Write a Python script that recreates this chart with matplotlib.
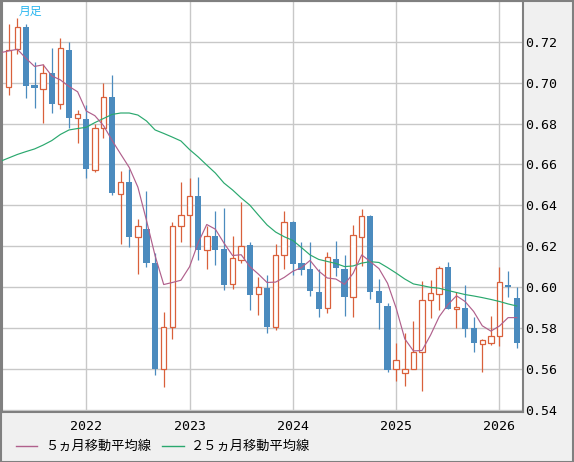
import numpy as np
import pandas as pd
import matplotlib
matplotlib.use("Agg")
import matplotlib.pyplot as plt

# monthly candles, Apr 2021 .. Mar 2026
months = pd.period_range("2021-04", periods=60, freq="M")

opens = [0.6978, 0.7164, 0.7272, 0.6989, 0.6968, 0.7046, 0.6895, 0.7161, 0.6826, 0.6823,
         0.6573, 0.6777, 0.6932, 0.6454, 0.6513, 0.6243, 0.6282, 0.6117, 0.5597, 0.5805,
         0.6297, 0.6351, 0.6446, 0.6183, 0.6251, 0.6186, 0.6013, 0.6131, 0.6206, 0.5964,
         0.5995, 0.5803, 0.6155, 0.6320, 0.6116, 0.6088, 0.5975, 0.5897, 0.6136, 0.6087,
         0.5952, 0.6243, 0.6349, 0.5980, 0.5907, 0.5597, 0.5580, 0.5597, 0.5680, 0.5936,
         0.5964, 0.6096, 0.5891, 0.5896, 0.5798, 0.5719, 0.5724, 0.5760, 0.6010, 0.5945]
highs = [0.7286, 0.7319, 0.7286, 0.7103, 0.7090, 0.7169, 0.7218, 0.7198, 0.6867, 0.6891,
         0.6798, 0.7000, 0.7038, 0.6568, 0.6576, 0.6331, 0.6470, 0.6168, 0.5876, 0.6317,
         0.6514, 0.6534, 0.6539, 0.6300, 0.6372, 0.6388, 0.6250, 0.6418, 0.6222, 0.6050,
         0.6057, 0.6210, 0.6372, 0.6325, 0.6222, 0.6222, 0.6088, 0.6171, 0.6225, 0.6157,
         0.6304, 0.6380, 0.6354, 0.6039, 0.5923, 0.5724, 0.5773, 0.5833, 0.6031, 0.6034,
         0.6104, 0.6121, 0.5977, 0.6010, 0.5855, 0.5744, 0.5858, 0.6099, 0.6078, 0.5998]
lows = [0.6940, 0.7139, 0.6924, 0.6878, 0.6805, 0.6853, 0.6872, 0.6777, 0.6704, 0.6532,
        0.6565, 0.6728, 0.6450, 0.6212, 0.6197, 0.6062, 0.6099, 0.5569, 0.5512, 0.5744,
        0.6222, 0.6197, 0.6132, 0.6087, 0.6108, 0.5985, 0.5990, 0.6119, 0.5887, 0.5863,
        0.5776, 0.5789, 0.6087, 0.6059, 0.6059, 0.5956, 0.5855, 0.5874, 0.6054, 0.5859,
        0.5852, 0.6104, 0.5941, 0.5794, 0.5585, 0.5541, 0.5517, 0.5597, 0.5489, 0.5847,
        0.5887, 0.5891, 0.5798, 0.5754, 0.5683, 0.5582, 0.5716, 0.5711, 0.5952, 0.5703]
closes = [0.7161, 0.7272, 0.6986, 0.6973, 0.7046, 0.6895, 0.7169, 0.6826, 0.6846, 0.6576,
          0.6777, 0.6932, 0.6459, 0.6513, 0.6243, 0.6297, 0.6116, 0.5597, 0.5805, 0.6297,
          0.6351, 0.6446, 0.6183, 0.6251, 0.6183, 0.6010, 0.6143, 0.6202, 0.5962, 0.5998,
          0.5803, 0.6155, 0.6317, 0.6113, 0.6085, 0.5982, 0.5894, 0.6145, 0.6091, 0.5952,
          0.6253, 0.6346, 0.5977, 0.5923, 0.5593, 0.5641, 0.5597, 0.5680, 0.5936, 0.5969,
          0.6091, 0.5891, 0.5900, 0.5793, 0.5727, 0.5740, 0.5760, 0.6023, 0.5998, 0.5727]

# moving averages, Mar 2021 .. Mar 2026 (one point before the first candle)
ma5 = [0.7147, 0.7156, 0.7164, 0.7120, 0.7080, 0.7088, 0.7034, 0.7014, 0.6982, 0.6956,
       0.6862, 0.6839, 0.6791, 0.6718, 0.6651, 0.6585, 0.6489, 0.6326, 0.6153, 0.6012,
       0.6022, 0.6033, 0.6099, 0.6216, 0.6306, 0.6283, 0.6215, 0.6154, 0.6158, 0.6100,
       0.6063, 0.6022, 0.6024, 0.6047, 0.6077, 0.6095, 0.6130, 0.6078, 0.6044, 0.6039,
       0.6013, 0.6067, 0.6157, 0.6124, 0.6090, 0.6018, 0.5896, 0.5746, 0.5687, 0.5689,
       0.5765, 0.5855, 0.5913, 0.5957, 0.5929, 0.5880, 0.5810, 0.5784, 0.5809, 0.5850,
       0.5850]
ma25 = [0.6615, 0.6632, 0.6649, 0.6663, 0.6676, 0.6695, 0.6717, 0.6747, 0.6769, 0.6776,
        0.6782, 0.6805, 0.6825, 0.6845, 0.6852, 0.6852, 0.6842, 0.6813, 0.6769, 0.6752,
        0.6734, 0.6715, 0.6673, 0.6637, 0.6597, 0.6558, 0.6509, 0.6475, 0.6436, 0.6401,
        0.6352, 0.6304, 0.6269, 0.6246, 0.6228, 0.6193, 0.6157, 0.6135, 0.6125, 0.6115,
        0.6100, 0.6103, 0.6117, 0.6124, 0.6120, 0.6095, 0.6068, 0.6039, 0.6015, 0.6007,
        0.5998, 0.5994, 0.5983, 0.5973, 0.5963, 0.5956, 0.5948, 0.5939, 0.5929, 0.5917,
        0.5907]

yticks = [0.54, 0.56, 0.58, 0.60, 0.62, 0.64, 0.66, 0.68, 0.70, 0.72]
legend_labels = ["５ヵ月移動平均線", "２５ヵ月移動平均線"]
chart_label = "月足"

UP = "#d9603b"
DOWN = "#4b8bbe"
C_MA5 = "#b0608c"
C_MA25 = "#2aa86e"
GRID = "#c8c8c8"
FRAME = "#808080"
BG = "#f0f0f0"
JP = ["Noto Sans CJK JP", "DejaVu Sans"]

W, H = 574, 462
fig = plt.figure(figsize=(W / 100, H / 100), dpi=100, facecolor=BG)
ax = fig.add_axes([1.5 / W, (H - 412) / H, 521.5 / W, 411 / H])
ax.set_facecolor("white")

x = np.arange(len(months))
o = np.array(opens)
c = np.array(closes)
hi = np.array(highs)
lo = np.array(lows)
up = c >= o

# wicks
ax.vlines(x[up], lo[up], hi[up], color=UP, lw=0.9, zorder=3)
ax.vlines(x[~up], lo[~up], hi[~up], color=DOWN, lw=0.9, zorder=3)

# bodies
bw = 0.64
ax.bar(x[up], (c - o)[up], bottom=o[up], width=bw, facecolor="white",
       edgecolor=UP, linewidth=0.9, zorder=4)
ax.bar(x[~up], (o - c)[~up], bottom=c[~up], width=bw + 0.08, facecolor=DOWN,
       edgecolor="none", zorder=4)

ma_x = np.arange(-1, len(months))
ax.plot(ma_x, ma25, color=C_MA25, lw=0.85, zorder=5)
ax.plot(ma_x, ma5, color=C_MA5, lw=0.85, zorder=5)

ax.set_xlim(-0.84, 59.73)
ax.set_ylim(0.53878, 0.74005)

jan = [i for i, m in enumerate(months) if m.month == 1]
ax.set_xticks(jan)
ax.set_xticklabels([str(months[i].year) for i in jan], family="DejaVu Sans Mono", fontsize=9.5)
ax.set_yticks(yticks)
ax.set_yticklabels([f"{v:.2f}" for v in yticks], family="DejaVu Sans Mono", fontsize=9.5)
ax.yaxis.tick_right()
ax.tick_params(axis="both", length=0)
ax.tick_params(axis="y", pad=1.5)
ax.tick_params(axis="x", pad=6)
ax.grid(True, color=GRID, lw=1, zorder=0)
ax.set_axisbelow(True)
for s in ax.spines.values():
    s.set_color(FRAME)
    s.set_linewidth(1.5)

ax.text(17 / 521.5, 1 - 10 / 411, chart_label, transform=ax.transAxes,
        color="#29b6f0", fontsize=8.5, family=JP, va="center", ha="left")

# legend drawn along the bottom strip
ly = 1 - 446 / H
fig.lines.append(plt.Line2D([16 / W, 37 / W], [ly, ly], color=C_MA5, lw=1, transform=fig.transFigure))
fig.text(45 / W, ly, legend_labels[0], fontsize=9.5, va="center", family=JP)
fig.lines.append(plt.Line2D([162 / W, 184 / W], [ly, ly], color=C_MA25, lw=1, transform=fig.transFigure))
fig.text(191 / W, ly, legend_labels[1], fontsize=9.5, va="center", family=JP)

# outer frame
fig.patches.append(plt.Rectangle((0.5 / W, 0.5 / H), 1 - 1.5 / W, 1 - 1.5 / H, fill=False,
                                 edgecolor=FRAME, lw=1.5, transform=fig.transFigure))

fig.savefig("out.png", dpi=100, facecolor=BG)
